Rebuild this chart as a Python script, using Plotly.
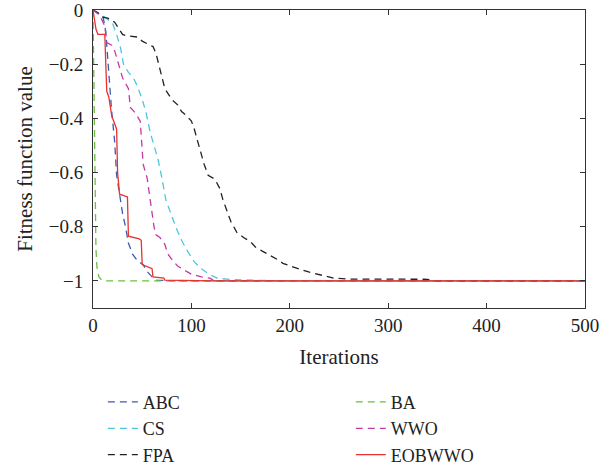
import plotly.graph_objects as go

abc_x = [0, 4, 10, 13, 15, 17, 19, 22, 24, 27, 30, 33, 36, 40, 45, 51, 55, 60, 65, 80, 500]
abc_y = [0, -0.01, -0.02, -0.08, -0.18, -0.28, -0.375, -0.485, -0.61, -0.68, -0.75, -0.8, -0.86, -0.9, -0.925, -0.94, -0.965, -0.985, -0.997, -1, -1]

ba_x = [0, 1, 2, 3, 4, 6, 9, 12, 500]
ba_y = [0, -0.35, -0.7, -0.88, -0.95, -0.985, -0.998, -1, -1]

cs_x = [0, 5, 10, 20, 24, 28, 31, 36, 41, 45, 50, 54, 58, 62, 66, 70, 74, 79, 84, 90, 96, 103, 110, 118, 126, 140, 180, 190, 500]
cs_y = [0, -0.01, -0.02, -0.05, -0.09, -0.14, -0.2, -0.23, -0.25, -0.28, -0.33, -0.38, -0.45, -0.5, -0.55, -0.62, -0.7, -0.75, -0.8, -0.85, -0.89, -0.93, -0.955, -0.975, -0.99, -0.995, -0.997, -1, -1]

wwo_x = [0, 7, 12, 14, 19, 22, 26, 30, 33, 36, 38, 43, 48, 50, 51, 55, 58, 60, 62, 64, 68, 73, 76, 81, 86, 95, 100, 110, 119, 123, 500]
wwo_y = [0, -0.02, -0.06, -0.12, -0.13, -0.15, -0.2, -0.25, -0.27, -0.29, -0.36, -0.38, -0.41, -0.5, -0.57, -0.62, -0.7, -0.75, -0.8, -0.83, -0.84, -0.865, -0.9, -0.925, -0.945, -0.965, -0.975, -0.985, -0.99, -1, -1]

fpa_x = [0, 5, 8, 15, 22, 26, 30, 34, 46, 50, 56, 61, 64, 67, 70, 73, 80, 86, 90, 95, 100, 103, 106, 109, 113, 117, 124, 129, 132, 136, 140, 146, 153, 160, 165, 172, 180, 187, 193, 200, 210, 220, 228, 236, 245, 260, 340, 345, 500]
fpa_y = [0, -0.01, -0.025, -0.03, -0.045, -0.07, -0.09, -0.095, -0.1, -0.115, -0.125, -0.135, -0.16, -0.2, -0.25, -0.29, -0.33, -0.35, -0.375, -0.39, -0.41, -0.44, -0.48, -0.52, -0.57, -0.61, -0.625, -0.66, -0.7, -0.74, -0.78, -0.82, -0.84, -0.855, -0.875, -0.89, -0.905, -0.92, -0.935, -0.945, -0.957, -0.968, -0.975, -0.983, -0.99, -0.993, -0.994, -1, -1]

eob_x = [0, 1, 3, 5, 12, 13, 14, 16, 19, 21, 24, 25, 26, 27, 35, 36, 47, 49, 50, 60, 61, 72, 73, 121, 122, 500]
eob_y = [0, -0.03, -0.07, -0.09, -0.09, -0.2, -0.3, -0.32, -0.39, -0.41, -0.44, -0.6, -0.63, -0.68, -0.69, -0.835, -0.845, -0.85, -0.94, -0.955, -0.985, -0.99, -0.997, -0.998, -1.0, -1.0]

x_ticks = [0, 100, 200, 300, 400, 500]
y_ticks = [0, -0.2, -0.4, -0.6, -0.8, -1]
y_tick_text = ["0", "\u22120.2", "\u22120.4", "\u22120.6", "\u22120.8", "\u22121"]

FONT = "Liberation Serif"
DASH = "7px,5px"

series = [
    ("ABC", abc_x, abc_y, "#3d5bb0", DASH, "legend", 1),
    ("CS", cs_x, cs_y, "#4cc6de", DASH, "legend", 2),
    ("FPA", fpa_x, fpa_y, "#222222", DASH, "legend", 3),
    ("BA", ba_x, ba_y, "#6cbd45", DASH, "legend2", 4),
    ("WWO", wwo_x, wwo_y, "#c23ba6", DASH, "legend2", 5),
    ("EOBWWO", eob_x, eob_y, "#e8322f", "solid", "legend2", 6),
]

fig = go.Figure()
for name, xs, ys, col, dash, leg, rank in series:
    fig.add_trace(go.Scatter(
        x=xs, y=ys, mode="lines", name=name,
        line=dict(color=col, width=1.3, dash=dash),
        legend=leg, legendrank=rank,
    ))

axis_common = dict(
    showline=True, linecolor="#333", linewidth=1, mirror="ticks",
    ticks="inside", ticklen=5, tickcolor="#333", showgrid=False, zeroline=False,
    tickfont=dict(family=FONT, size=19, color="#222"),
    ticklabeloverflow="allow",
)

fig.update_layout(
    width=615, height=470,
    margin=dict(l=93, r=30, t=10, b=162, autoexpand=False),
    paper_bgcolor="white", plot_bgcolor="white",
    font=dict(family=FONT, size=19, color="#222"),
    showlegend=True,
    xaxis=dict(range=[0, 500], tickvals=x_ticks, ticklabelstandoff=0, **axis_common,
               title=dict(text="Iterations", font=dict(family=FONT, size=21), standoff=14)),
    yaxis=dict(range=[-1.1, 0.0001], tickvals=y_ticks, ticktext=y_tick_text, ticklabelstandoff=5,
               **axis_common,
               title=dict(text="Fitness function value", font=dict(family=FONT, size=21), standoff=10)),
    legend=dict(x=0.02, y=-0.254, xanchor="left", yanchor="top", orientation="v",
                bgcolor="rgba(0,0,0,0)", font=dict(family=FONT, size=18)),
    legend2=dict(x=0.524, y=-0.254, xanchor="left", yanchor="top", orientation="v",
                 bgcolor="rgba(0,0,0,0)", font=dict(family=FONT, size=18)),
)

fig.write_html("out.html")
